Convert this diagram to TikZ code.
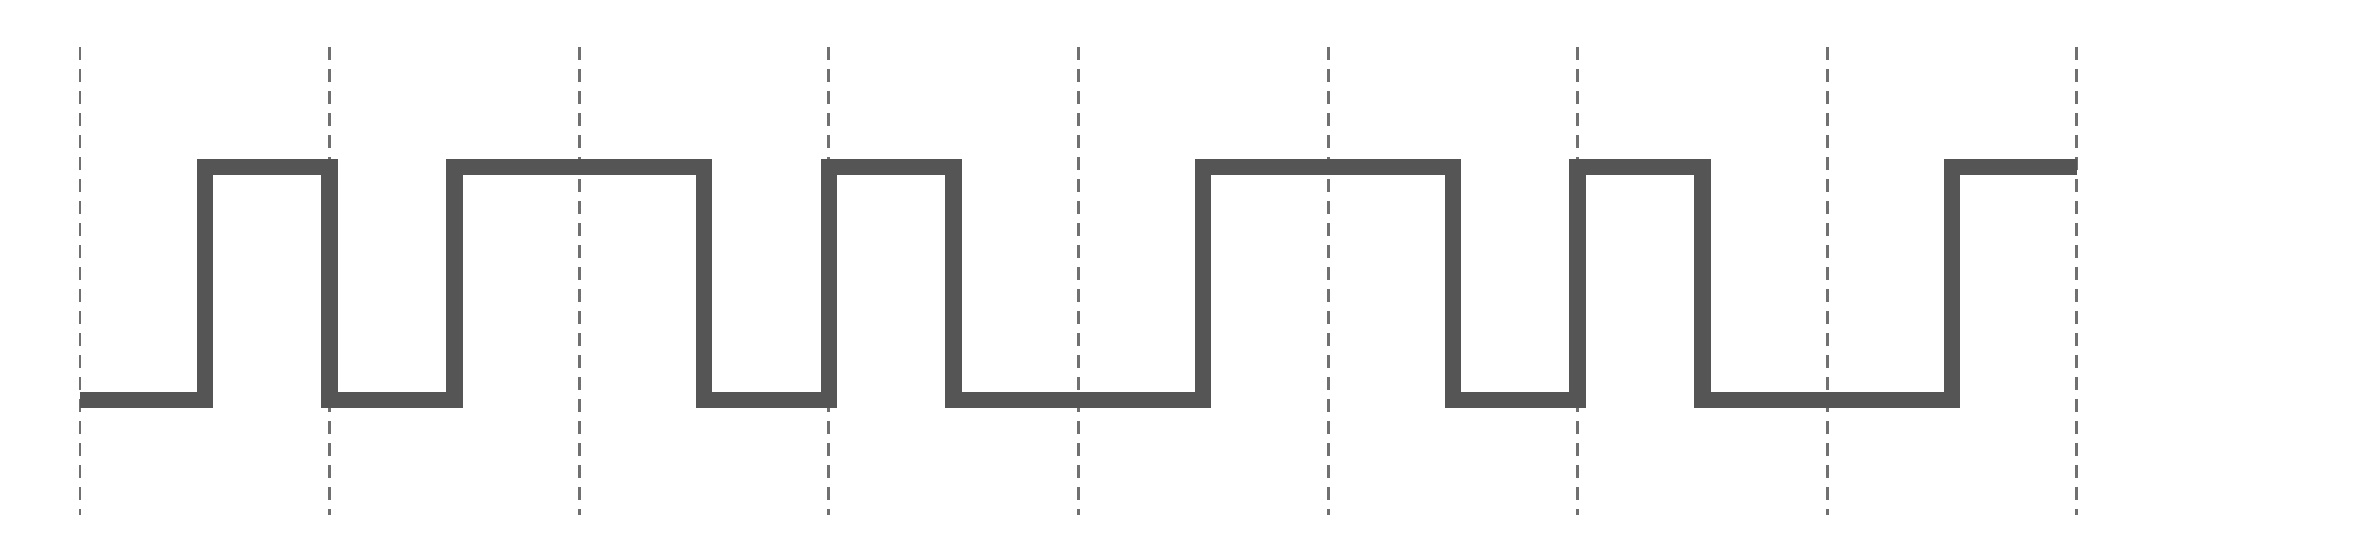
\documentclass[tikz,border=0pt]{standalone}
\usepackage{xcolor}
\usepackage{tikz}
\definecolor{wave}{HTML}{555555}
\definecolor{tick}{HTML}{707070}

\begin{document}
\begin{tikzpicture}[x=1.248cm,y=1cm,
  signal/.style={wave,line width=4.7pt,line join=miter},
  bitline/.style={tick,line width=.85pt,dash pattern=on 3.7pt off 2.56pt}]
\useasboundingbox (-.641,-1.57) rectangle (18.269,4.0);
\def\hi{2.33}
% bit boundaries
\foreach \k in {0,2,...,16}{\draw[bitline] (\k,3.53)--(\k,-1.15);}
% encoded signal
\draw[signal] (0,0) -| (1,\hi) -| (2,0) -| (3,\hi) -| (5,0) -| (6,\hi) -| (7,0)
  -| (9,\hi) -| (11,0) -| (12,\hi) -| (13,0) -| (15,\hi) -- (16,\hi);
\end{tikzpicture}
\end{document}
